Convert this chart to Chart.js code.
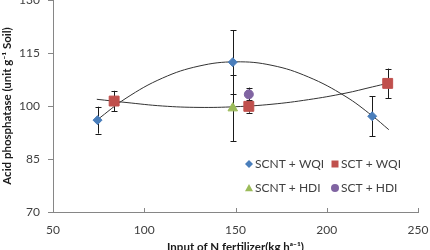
<!DOCTYPE html>
<html>
<head>
<meta charset="utf-8">
<script src="https://cdn.jsdelivr.net/npm/chart.js@4.4.0/dist/chart.umd.min.js"></script>
<style>
  body { margin: 0; background: #fff; }
  #wrap { width: 430px; height: 250px; }
</style>
</head>
<body>
<div id="wrap"><canvas id="acidChart"></canvas></div>
<script>
// N input (kg ha-1), enzyme activity and error bar half-widths
const scntWqiX = [74.4, 148.5, 224.9];
const scntWqiY = [96.0, 112.4, 97.1];
const scntWqiErr = [3.8, 9.1, 5.7];

const sctWqiX = [83.5, 157.3, 233.4];
const sctWqiY = [101.4, 99.9, 106.4];
const sctWqiErr = [2.9, 1.8, 4.2];

const scntHdiX = [148.5];
const scntHdiY = [99.4];
const scntHdiErr = [9.3];

const sctHdiX = [157.3];
const sctHdiY = [103.3];
const sctHdiErr = [1.9];

// points
const trendX = [74, 90, 110, 130, 150, 170, 190, 210, 225, 234];
const trendWqiBlue = [96.0, 102.2, 107.9, 111.3, 112.5, 111.5, 108.2, 102.8, 97.2, 93.3];
const trendWqiRed = [101.9, 101.0, 100.0, 99.6, 99.8, 100.5, 101.8, 103.6, 105.4, 106.5];

const xTicks = [50, 100, 150, 200, 250];
const yTicks = [70, 85, 100, 115, 130];

const seriesNames = ["SCNT + WQI", "SCT + WQI", "SCNT + HDI", "SCT + HDI"];

function pts(xs, ys) {
  return xs.map(function (x, i) { return { x: x, y: ys[i] }; });
}

// big markers would otherwise push the plot down; the figure lets 130 sit on the top edge
const ScatterCtl = Chart.ScatterController || Chart.registry.getController("scatter");
if (ScatterCtl) {
  ScatterCtl.prototype.getMaxOverflow = function () { return 0; };
}

const errorSets = [scntWqiErr, sctWqiErr, scntHdiErr, sctHdiErr];

// error bars behind the markers
const errorBars = {
  id: "errorBars",
  beforeDatasetsDraw(chart) {
    const ctx = chart.ctx;
    const xs = chart.scales.x, ys = chart.scales.y;
    ctx.save();
    ctx.strokeStyle = "#1a1a1a";
    ctx.lineWidth = 1;
    errorSets.forEach(function (errs, di) {
      chart.data.datasets[di].data.forEach(function (p, i) {
        const px = Math.round(xs.getPixelForValue(p.x)) + 0.5;
        const top = ys.getPixelForValue(p.y + errs[i]);
        const bot = ys.getPixelForValue(p.y - errs[i]);
        ctx.beginPath();
        ctx.moveTo(px, top); ctx.lineTo(px, bot);
        ctx.moveTo(px - 3, Math.round(top) + 0.5); ctx.lineTo(px + 3, Math.round(top) + 0.5);
        ctx.moveTo(px - 3, Math.round(bot) + 0.5); ctx.lineTo(px + 3, Math.round(bot) + 0.5);
        ctx.stroke();
      });
    });
    ctx.restore();
  }
};

// x tick marks point into the plot, legend sits inside the plot
function marker(ctx, style, color, x, y, r) {
  ctx.fillStyle = color;
  ctx.beginPath();
  if (style === "rectRot") {
    ctx.moveTo(x, y - r); ctx.lineTo(x + r, y); ctx.lineTo(x, y + r); ctx.lineTo(x - r, y);
  } else if (style === "rect") {
    ctx.rect(x - r, y - r, 2 * r, 2 * r);
  } else if (style === "triangle") {
    ctx.moveTo(x, y - r); ctx.lineTo(x + r, y + r * 0.8); ctx.lineTo(x - r, y + r * 0.8);
  } else {
    ctx.arc(x, y, r, 0, Math.PI * 2);
  }
  ctx.closePath();
  ctx.fill();
}

const extras = {
  id: "extras",
  afterDraw(chart) {
    const ctx = chart.ctx;
    const xs = chart.scales.x;
    const area = chart.chartArea;
    ctx.save();
    ctx.strokeStyle = "#868686";
    ctx.lineWidth = 1;
    ctx.beginPath();
    xTicks.forEach(function (t) {
      const px = Math.round(xs.getPixelForValue(t)) + 0.5;
      ctx.moveTo(px, area.bottom); ctx.lineTo(px, area.bottom - 4);
    });
    ctx.stroke();

    // legend block, placed relative to the plot area
    const rows = [area.bottom - 48, area.bottom - 24];
    const cols = [249, 335];
    ctx.font = "12px Lato";
    ctx.textBaseline = "middle";
    chart.data.datasets.slice(0, 4).forEach(function (ds, i) {
      const x = cols[i % 2], y = rows[Math.floor(i / 2)];
      marker(ctx, ds.pointStyle, ds.backgroundColor, x, y, ds.pointStyle === "rect" ? 3.5 : 4);
      ctx.fillStyle = "#404040";
      ctx.fillText(seriesNames[i], x + 6, y);
    });
    ctx.restore();
  }
};

const ctx = document.getElementById("acidChart").getContext("2d");

const acidChart = new Chart(ctx, {
  type: "scatter",
  data: {
    datasets: [
      {
        label: seriesNames[0],
        data: pts(scntWqiX, scntWqiY),
        pointStyle: "rectRot",
        pointRadius: 4.5,
        backgroundColor: "#4a7ebb",
        borderColor: "#4a7ebb",
      },
      {
        label: seriesNames[1],
        data: pts(sctWqiX, sctWqiY),
        pointStyle: "rect",
        pointRadius: 7,
        backgroundColor: "#c0504d",
        borderColor: "#c0504d",
      },
      {
        label: seriesNames[2],
        data: pts(scntHdiX, scntHdiY),
        pointStyle: "triangle",
        pointRadius: 5.5,
        backgroundColor: "#9bbb59",
        borderColor: "#9bbb59",
      },
      {
        label: seriesNames[3],
        data: pts(sctHdiX, sctHdiY),
        pointStyle: "circle",
        pointRadius: 4.5,
        backgroundColor: "#8064a2",
        borderColor: "#8064a2",
      },
      {
        label: "trend WQI SCNT",
        type: "line",
        data: pts(trendX, trendWqiBlue),
        showLine: true,
        tension: 0.4,
        pointRadius: 0,
        borderColor: "#333333",
        borderWidth: 1,
      },
      {
        label: "trend WQI SCT",
        type: "line",
        data: pts(trendX, trendWqiRed),
        showLine: true,
        tension: 0.4,
        pointRadius: 0,
        borderColor: "#333333",
        borderWidth: 1,
      },
    ],
  },
  options: {
    responsive: true,
    maintainAspectRatio: false,
    animation: false,
    layout: { padding: { top: 0, right: 12, left: 0, bottom: 0 } },
    plugins: {
      legend: { display: false },
      tooltip: { enabled: false },
    },
    scales: {
      x: {
        type: "linear",
        min: 50,
        max: 250,
        afterBuildTicks: function (scale) {
          scale.ticks = xTicks.map(function (v) { return { value: v }; });
        },
        afterFit: function (scale) {
          scale.height = 38;
          scale.paddingLeft = 0;
          scale.paddingRight = 0;
        },
        grid: { display: false, drawTicks: false },
        border: { color: "#868686", width: 1 },
        ticks: { color: "#404040", font: { family: "Lato", size: 12 }, padding: 11, maxRotation: 0 },
        title: {
          display: true,
          text: "Input of N fertilizer(kg h\u1d43\u207b\u00b9)",
          color: "#1a1a1a",
          font: { family: "Lato", size: 11.5, weight: "bold" },
          padding: { top: 0, bottom: -4 },
        },
      },
      y: {
        min: 70,
        max: 130,
        afterBuildTicks: function (scale) {
          scale.ticks = yTicks.map(function (v) { return { value: v }; });
        },
        afterFit: function (scale) {
          scale.width = 53;
          scale.paddingTop = 0;
          scale.paddingBottom = 0;
        },
        grid: { drawOnChartArea: false, drawTicks: true, tickLength: 5, color: "#868686" },
        border: { color: "#868686", width: 1 },
        ticks: { color: "#404040", font: { family: "Lato", size: 12 }, padding: 8 },
        title: {
          display: true,
          text: "Acid phosphatase (unit g\u207b\u00b9 Soil)",
          color: "#1a1a1a",
          font: { family: "Lato", size: 11.5, weight: "bold" },
          padding: { top: 0, bottom: 0 },
        },
      },
    },
  },
  plugins: [errorBars, extras],
});
</script>
</body>
</html>
